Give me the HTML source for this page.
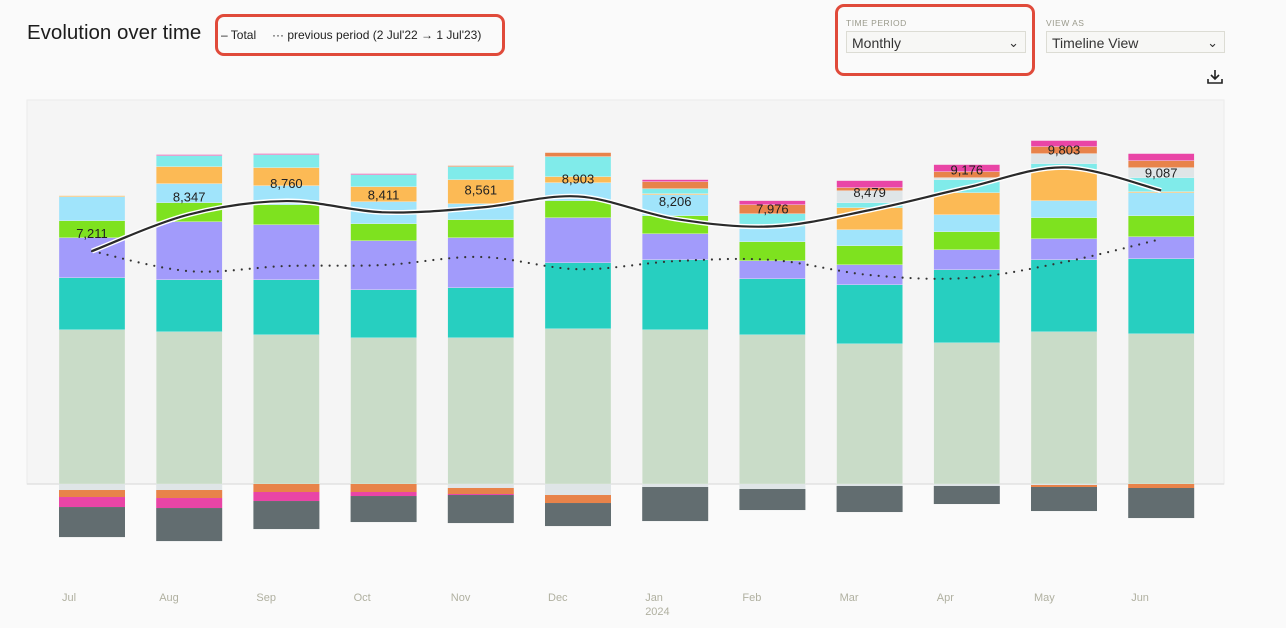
<!DOCTYPE html>
<html><head><meta charset="utf-8">
<style>
html,body{margin:0;padding:0;background:#fafafa;width:1286px;height:628px;overflow:hidden;font-family:"Liberation Sans","DejaVu Sans",sans-serif;}
.abs{position:absolute;}
.sel{position:absolute;border:1px solid #dcdcd4;background:#f7f7f5;height:22px;font-size:14px;color:#333;line-height:22px;padding-left:5px;box-sizing:border-box;}
.lab{position:absolute;font-size:8.5px;color:#9a9a8c;letter-spacing:0.5px;}
</style></head>
<body>
<div class="abs" style="left:27px;top:21px;font-size:20.5px;color:#1c1c1c;">Evolution over time</div>
<div class="abs" style="left:215px;top:14px;width:284px;height:36px;border:3px solid #e04a3a;border-radius:9px;"></div>
<div class="abs" style="left:221px;top:28px;font-size:12px;color:#222;">– Total</div>
<div class="abs" style="left:272px;top:28px;font-size:12px;color:#222;">··· previous period (2 Jul'22 → 1 Jul'23)</div>

<div class="abs" style="left:835px;top:4px;width:194px;height:66px;border:3px solid #e04a3a;border-radius:9px;"></div>
<div class="lab" style="left:846px;top:18px;">TIME PERIOD</div>
<div class="sel" style="left:846px;top:31px;width:180px;">Monthly<span style="position:absolute;right:6px;top:0;font-size:13px;">&#8964;</span></div>
<div class="lab" style="left:1046px;top:18px;">VIEW AS</div>
<div class="sel" style="left:1046px;top:31px;width:179px;">Timeline View<span style="position:absolute;right:6px;top:0;font-size:13px;">&#8964;</span></div>
<svg class="abs" style="left:1206px;top:68px;" width="18" height="18" viewBox="0 0 18 18"><path d="M9 2v9M5 7l4 4 4-4M2 11v4h14v-4" fill="none" stroke="#222" stroke-width="1.6"/></svg>

<svg id="chart" class="abs" style="left:0;top:0;" width="1286" height="628"></svg>

<script>
const months=["Jul","Aug","Sep","Oct","Nov","Dec","Jan","Feb","Mar","Apr","May","Jun"];
const sage=[4774,4712,4619,4526,4526,4805,4774,4619,4340,4371,4712,4650];
const teal=[1612,1612,1705,1488,1550,2046,2170,1736,1829,2263,2232,2325];
const purple=[1240,1798,1705,1519,1550,1395,806,558,620,620,651,682];
const green=[527,589,620,527,558,527,558,589,589,558,651,651];
const lightblue=[744,589,589,682,496,558,651,465,496,527,527,713];
const orange=[31,527,558,465,744,186,31,0,682,682,961,31];
const cyan=[0,341,403,372,403,620,155,403,155,403,186,434];
const grayPos=[0,0,0,0,0,0,0,0,372,62,310,310];
const redPos=[0,0,0,0,31,124,217,279,93,186,217,217];
const pinkPos=[0,31,31,31,0,0,62,124,217,217,186,217];
const negLight=[186,186,0,0,124,341,93,155,62,62,31,0];
const negOrange=[217,248,248,248,186,248,0,0,0,0,62,124];
const negPink=[310,310,279,124,31,0,0,0,0,0,0,0];
const negDark=[930,1023,868,806,868,713,1054,651,806,558,744,930];
const totals=[7211,8347,8760,8411,8561,8903,8206,7976,8479,9176,9803,9087];
const previous=[7211,6590,6750,6780,7030,6650,6900,6935,6470,6380,6870,7585];

const NS="http://www.w3.org/2000/svg";
const svg=document.getElementById('chart');
const base=484, k=0.0323;
const y=v=>base-v*k;
const x=i=>92+i*97.2;
const bw=66;
function mk(t,a){const e=document.createElementNS(NS,t);for(const q in a)e.setAttribute(q,a[q]);svg.appendChild(e);return e;}

const bg=mk('rect',{x:27,y:100,width:1197,height:384,fill:'#f5f5f5',stroke:'#ebebeb'});


const bl=mk('line',{x1:27,x2:1224,y1:base,y2:base,stroke:'#e2e2e2','stroke-width':1.5});



const posSeries=[[sage,'#c9dcc8','sage'],[teal,'#27cfc0','teal'],[purple,'#a29bfb','purple'],[green,'#7ee21f','green'],[lightblue,'#a0e4fb','light-blue'],[orange,'#fcba55','orange'],[cyan,'#80ebea','cyan'],[grayPos,'#dfe5e7','gray'],[redPos,'#e8834a','red'],[pinkPos,'#e945a6','pink']];
const negSeries=[[negLight,'#dfe5e7','light'],[negOrange,'#e8834a','orange'],[negPink,'#e945a6','pink'],[negDark,'#626d70','dark']];
months.forEach((m,i)=>{
  let acc=0;
  posSeries.forEach(([arr,c,n])=>{
    const v=arr[i]; if(v<=0){return;}
    const r=mk('rect',{x:x(i)-bw/2,y:y(acc+v),width:bw,height:v*k,fill:c,stroke:'#f5f5f5','stroke-width':0.3});
    
    
    acc+=v;
  });
  let nacc=0;
  negSeries.forEach(([arr,c,n])=>{
    const v=arr[i]; if(v<=0){return;}
    const r=mk('rect',{x:x(i)-bw/2,y:y(-nacc),width:bw,height:v*k,fill:c});
    
    
    nacc+=v;
  });
  const t=mk('text',{x:x(i)-30,y:601,'font-size':11,fill:'#b0b0a0'});
  t.textContent=m;
  
  
});
const yr=mk('text',{x:x(6)-30,y:615,'font-size':11,fill:'#b0b0a0'});
yr.textContent='2024';



function path(vals){
  const p=vals.map((v,i)=>[x(i),y(v)]);
  let d='M'+p[0][0]+','+p[0][1];
  for(let i=0;i<p.length-1;i++){
    const p0=p[i-1]||p[i],p1=p[i],p2=p[i+1],p3=p[i+2]||p2;
    const c1=[p1[0]+(p2[0]-p0[0])/6,p1[1]+(p2[1]-p0[1])/6];
    const c2=[p2[0]-(p3[0]-p1[0])/6,p2[1]-(p3[1]-p1[1])/6];
    d+=` C${c1[0]},${c1[1]} ${c2[0]},${c2[1]} ${p2[0]},${p2[1]}`;
  }
  return d;
}
const prev=mk('path',{d:path(previous),fill:'none',stroke:'#333','stroke-width':2.2,'stroke-dasharray':'0 8','stroke-linecap':'round'});


const halo=mk('path',{d:path(totals),fill:'none',stroke:'#fff','stroke-width':5});


const tl=mk('path',{d:path(totals),fill:'none',stroke:'#2a2a2a','stroke-width':2.2});


totals.forEach((v,i)=>{
  const t=mk('text',{x:x(i),y:y(v)-13,'font-size':13,fill:'#222','text-anchor':'middle'});
  t.textContent=v.toLocaleString('en-US');
  
  
});
</script>
</body></html>
